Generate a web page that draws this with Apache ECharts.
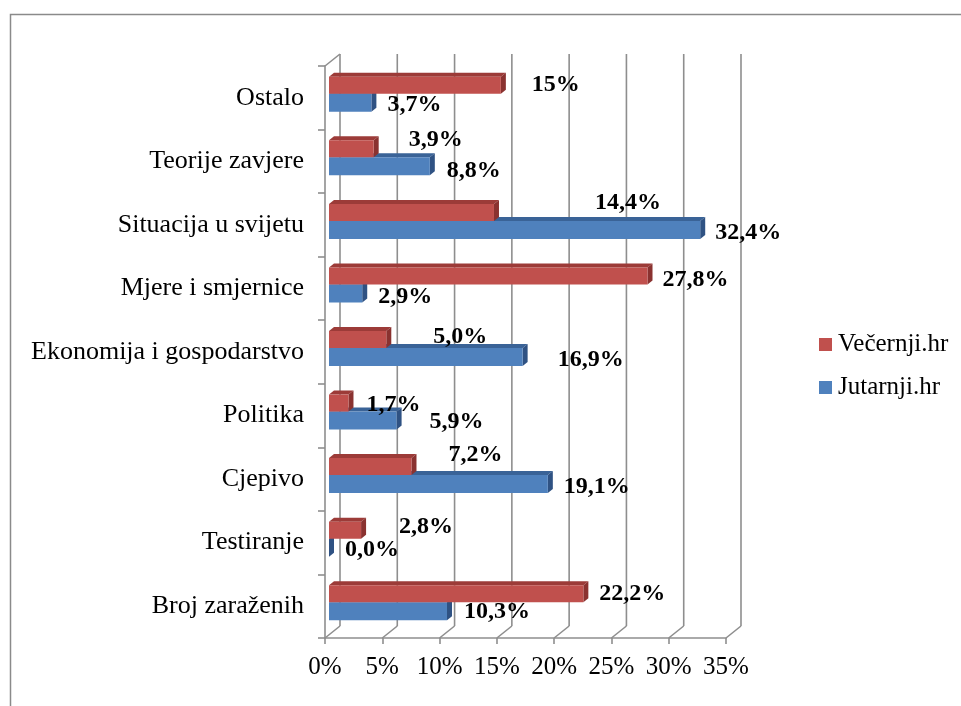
<!DOCTYPE html>
<html><head><meta charset="utf-8">
<script src="https://cdn.jsdelivr.net/npm/echarts@6/dist/echarts.min.js"></script>
<style>html,body{margin:0;padding:0;background:#fff}#c{width:961px;height:706px}</style>
</head><body><div id="c"></div>
<script>
// Categories listed bottom-to-top (ECharts category y axis starts at the bottom)
const categories = ['Broj zaraženih', 'Testiranje', 'Cjepivo', 'Politika', 'Ekonomija i gospodarstvo', 'Mjere i smjernice', 'Situacija u svijetu', 'Teorije zavjere', 'Ostalo'];
const vecernji = [22.2, 2.8, 7.2, 1.7, 5.0, 27.8, 14.4, 3.9, 15];
const jutarnji = [10.3, 0.0, 19.1, 5.9, 16.9, 2.9, 32.4, 8.8, 3.7];
const vecernjiLabels = ['22,2%', '2,8%', '7,2%', '1,7%', '5,0%', '27,8%', '14,4%', '3,9%', '15%'];
const jutarnjiLabels = ['10,3%', '0,0%', '19,1%', '5,9%', '16,9%', '2,9%', '32,4%', '8,8%', '3,7%'];
const xTicks = [0, 5, 10, 15, 20, 25, 30, 35];

// ---- styling / layout (not data) ----
const FONT = "'Liberation Serif','Times New Roman',serif";
const RED = { front: '#C0504D', top: '#9C3B38', side: '#8A3230' };
const BLUE = { front: '#4F81BD', top: '#3A6397', side: '#2F5283' };
const BAR_SHIFT = 4;          // bars sit slightly behind the front plane
const DEPTH = [5, -4];        // bar 3D depth
const WALL = [15, -12];       // back wall offset
const GRID_COLOR = '#8E8E8E';
// label nudges (Excel placed these labels by hand)
const labelNudge = {
  vec: { dx: [16, 38, 37, 18, 47, 15, 101, 35, 31], dy: [-12, -16, -24, -11, -15, -9, -22, -22, -13] },
  jut: { dx: [17, 16, 16, 33, 35, 16, 15, 17, 16], dy: [6, 7, 8, 6, 8, 8, 8, 9, 7] }
};
const BAR_Y = { vec: [-21, -4], jut: [-4, 14] };

function barRenderer(colors, yr) {
  return function (params, api) {
    const v = api.value(0), ci = api.value(1);
    const p0 = api.coord([0, ci]);
    const p1 = api.coord([v, ci]);
    const c = p0[1];
    const xa = p0[0] + BAR_SHIFT, xb = p1[0] + BAR_SHIFT;
    const ya = c + yr[0], yb = c + yr[1];
    const dx = DEPTH[0], dy = DEPTH[1];
    return {
      type: 'group',
      children: [
        { type: 'polygon', shape: { points: [[xa, ya], [xa + dx, ya + dy], [xb + dx, ya + dy], [xb, ya]] }, style: { fill: colors.top } },
        { type: 'polygon', shape: { points: [[xb, ya], [xb + dx, ya + dy], [xb + dx, yb + dy], [xb, yb]] }, style: { fill: colors.side } },
        { type: 'rect', shape: { x: xa, y: ya, width: Math.max(0, xb - xa), height: yb - ya }, style: { fill: colors.front } }
      ]
    };
  };
}

function labelRenderer(params, api) {
  const i = params.dataIndex;
  const ci = api.value(2);
  const c = api.coord([0, ci])[1];
  const xv = api.coord([api.value(0), ci])[0] + BAR_SHIFT;
  const xj = api.coord([api.value(1), ci])[0] + BAR_SHIFT;
  const st = { font: 'bold 24px ' + FONT, fill: '#000', textAlign: 'left', textVerticalAlign: 'middle' };
  return {
    type: 'group',
    children: [
      { type: 'text', x: xv + labelNudge.vec.dx[i], y: c + labelNudge.vec.dy[i], style: Object.assign({ text: vecernjiLabels[i] }, st) },
      { type: 'text', x: xj + labelNudge.jut.dx[i], y: c + labelNudge.jut.dy[i], style: Object.assign({ text: jutarnjiLabels[i] }, st) }
    ]
  };
}

function wallRenderer(params, api) {
  const v = api.value(0);
  const cs = params.coordSys;
  const x = api.coord([v, 0])[0];
  const top = cs.y, bottom = cs.y + cs.height;
  const bx = x + WALL[0];
  const ls = { stroke: GRID_COLOR, lineWidth: 1.6, fill: null };
  const children = [
    { type: 'line', shape: { x1: bx, y1: top + WALL[1], x2: bx, y2: bottom + WALL[1] }, style: ls },
    { type: 'line', shape: { x1: bx, y1: bottom + WALL[1], x2: x, y2: bottom }, style: ls }
  ];
  if (v === 0) {
    children.push({ type: 'line', shape: { x1: x, y1: top, x2: bx, y2: top + WALL[1] }, style: ls });
  }
  return { type: 'group', children: children };
}

const chart = echarts.init(document.getElementById('c'), null, { renderer: 'canvas' });
chart.setOption({
  animation: false,
  backgroundColor: '#fff',
  graphic: [{
    type: 'rect', left: 8, top: 12, shape: { x: 0, y: 0, width: 1000, height: 1000 },
    style: { fill: null, stroke: '#8A8A8A', lineWidth: 1.5 }, silent: true
  }],
  grid: { left: 325, top: 66, width: 401, height: 572, containLabel: false },
  legend: {
    orient: 'vertical', left: 814, top: 327, itemWidth: 13, itemHeight: 13, itemGap: 18,
    icon: 'rect', data: ['Večernji.hr', 'Jutarnji.hr'],
    textStyle: { fontFamily: FONT, fontSize: 25, color: '#000', padding: [0, 0, 0, 1] }
  },
  xAxis: {
    type: 'value', min: 0, max: 35, interval: 5,
    axisLine: { show: true, lineStyle: { color: GRID_COLOR, width: 1.6 } },
    axisTick: { show: true, length: 6, lineStyle: { color: GRID_COLOR, width: 1.6 } },
    splitLine: { show: false },
    axisLabel: { formatter: '{value}%', fontFamily: FONT, fontSize: 25, color: '#000', margin: 17 }
  },
  yAxis: {
    type: 'category', data: categories,
    axisLine: { show: true, lineStyle: { color: GRID_COLOR, width: 1.6 } },
    axisTick: { show: true, length: 7, lineStyle: { color: GRID_COLOR, width: 1.6 } },
    axisLabel: { fontFamily: FONT, fontSize: 26, color: '#000', margin: 21 }
  },
  series: [
    { name: 'walls', type: 'custom', z: 1, silent: true, renderItem: wallRenderer,
      data: xTicks.map(v => [v, 0]), encode: { x: 0, y: 1 } },
    { name: 'Jutarnji.hr', type: 'custom', z: 2, itemStyle: { color: BLUE.front },
      renderItem: barRenderer(BLUE, BAR_Y.jut), data: jutarnji.map((v, i) => [v, i]), encode: { x: 0, y: 1 } },
    { name: 'Večernji.hr', type: 'custom', z: 3, itemStyle: { color: RED.front },
      renderItem: barRenderer(RED, BAR_Y.vec), data: vecernji.map((v, i) => [v, i]), encode: { x: 0, y: 1 } },
    { name: 'labels', type: 'custom', z: 4, silent: true, renderItem: labelRenderer,
      data: vecernji.map((v, i) => [v, jutarnji[i], i]), encode: { x: [0, 1], y: 2 } }
  ]
});
</script>
</body></html>
